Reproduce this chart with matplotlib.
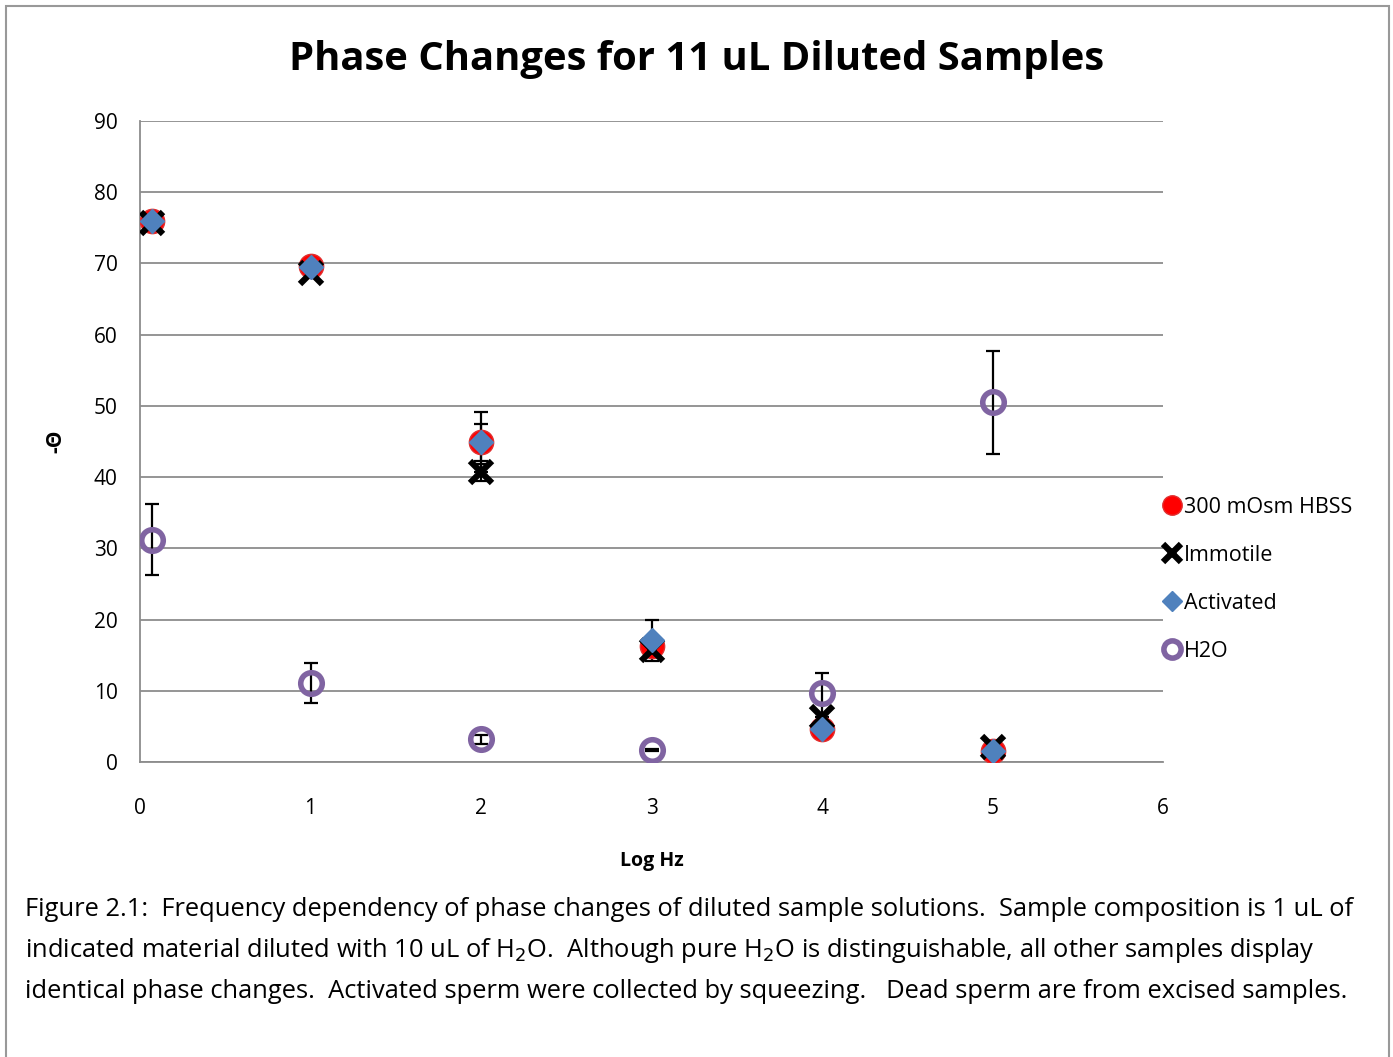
import matplotlib.pyplot as plt
from matplotlib.patches import Rectangle

plt.rcParams['font.family'] = ['Open Sans', 'DejaVu Sans']

# log Hz positions
log_hz = [0.07, 1.0, 2.0, 3.0, 4.0, 5.0]

hbss = [76.0, 69.6, 44.9, 16.3, 4.6, 1.5]
hbss_err = [0, 0, 4.2, 0, 0, 0]
immotile = [75.7, 68.7, 40.7, 15.7, 6.3, 2.1]
immotile_err = [0, 0, 1.2, 0, 0, 0]
activated = [76.0, 69.5, 44.9, 17.1, 4.6, 1.5]
activated_err = [0, 0, 2.6, 2.9, 0, 0]
h2o = [31.2, 11.1, 3.2, 1.7, 9.7, 50.5]
h2o_err = [5.0, 2.8, 0.6, 0.2, 2.8, 7.2]

caption = ("Figure 2.1:  Frequency dependency of phase changes of diluted sample solutions.  Sample composition is 1 uL of\n"
           "indicated material diluted with 10 uL of H$_2$O.  Although pure H$_2$O is distinguishable, all other samples display\n"
           "identical phase changes.  Activated sperm were collected by squeezing.   Dead sperm are from excised samples.")

fig = plt.figure(figsize=(13.93, 10.57), dpi=100)
ax = fig.add_axes([0.1005, 0.279, 0.7345, 0.6065])

ebkw = dict(ecolor='black', elinewidth=1.6, capsize=5, capthick=1.6, linestyle='none', zorder=2)
ax.errorbar(log_hz, hbss, yerr=hbss_err, fmt='none', **ebkw)
ax.errorbar(log_hz, immotile, yerr=immotile_err, fmt='none', **ebkw)
ax.errorbar(log_hz, activated, yerr=activated_err, fmt='none', **ebkw)
ax.errorbar(log_hz, h2o, yerr=h2o_err, fmt='none', **ebkw)

ax.plot(log_hz, hbss, 'o', ms=17.5, color='#FF0000', mec='#E03030', mew=1, zorder=3, label='300 mOsm HBSS')
ax.plot(log_hz, immotile, 'x', ms=16, mew=4.5, color='black', zorder=4, label='Immotile')
ax.plot(log_hz, activated, 'D', ms=12.5, color='#4F81BD', mec='#4F81BD', zorder=5, label='Activated')
ax.plot(log_hz, h2o, 'o', ms=15.5, mfc='none', mec='#8064A2', mew=4, zorder=6, label='H2O')

ax.set_xlim(0, 6)
ax.set_ylim(0, 90)
ax.set_xticks(range(0, 7))
ax.set_yticks(range(0, 91, 10))
ax.tick_params(length=0, labelsize=15)
ax.tick_params(axis='x', pad=26)
ax.tick_params(axis='y', pad=16)
ax.grid(axis='y', color='#8C8C8C', linewidth=1.3)
ax.set_axisbelow(True)
for s in ['top', 'right']:
    ax.spines[s].set_visible(False)
for s in ['left', 'bottom']:
    ax.spines[s].set_color('#8C8C8C')
    ax.spines[s].set_linewidth(1.3)

ax.set_xlabel('Log Hz', fontsize=14, fontweight='bold', labelpad=23)
ax.set_ylabel('-\u0398', fontsize=15, fontweight='bold', labelpad=20)

fig.text(0.5, 0.944, 'Phase Changes for 11 uL Diluted Samples', ha='center', va='center',
         fontsize=28.8, fontweight='bold')

fig.legend(loc='upper left', bbox_to_anchor=(0.829, 0.538), frameon=False, fontsize=15.5,
           markerscale=0.8, handlelength=0.8, handletextpad=0.15, labelspacing=1.25, borderaxespad=0)

fig.text(0.018, 0.101, caption, ha='left', va='center', fontsize=18.4, linespacing=1.7)

fig.add_artist(Rectangle((0.004, -0.01), 0.993, 1.004, transform=fig.transFigure,
                         fill=False, edgecolor='#999999', linewidth=1.5))

fig.savefig('out.png', dpi=100)
